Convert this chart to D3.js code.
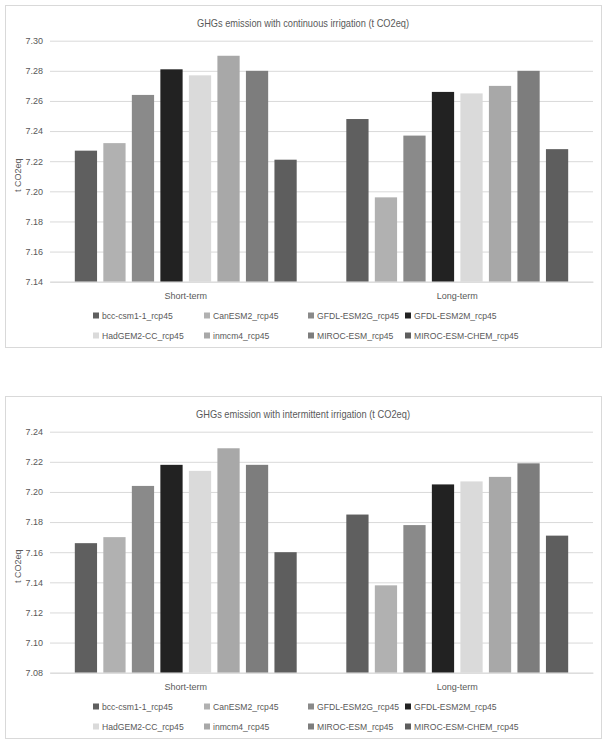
<!DOCTYPE html>
<html>
<head>
<meta charset="utf-8">
<script src="https://cdn.jsdelivr.net/npm/d3@7"></script>
<style>
  html, body { margin: 0; padding: 0; background: #ffffff; }
  svg { display: block; }
  text { font-family: "Liberation Sans", Arial, sans-serif; fill: #595959; }
</style>
</head>
<body>
<svg id="chart" width="611" height="747"></svg>
<script>
// ---- data ----
const categories = ["Short-term", "Long-term"];
const models = ["bcc-csm1-1_rcp45", "CanESM2_rcp45", "GFDL-ESM2G_rcp45", "GFDL-ESM2M_rcp45",
                "HadGEM2-CC_rcp45", "inmcm4_rcp45", "MIROC-ESM_rcp45", "MIROC-ESM-CHEM_rcp45"];
const modelColors = ["#5f5f5f", "#b1b1b1", "#8a8a8a", "#222222", "#dadada", "#a8a8a8", "#7d7d7d", "#5e5e5e"];

const continuousShort = [7.227, 7.232, 7.264, 7.281, 7.277, 7.290, 7.280, 7.221];
const continuousLong  = [7.248, 7.196, 7.237, 7.266, 7.265, 7.270, 7.280, 7.228];
const continuousTicks = [7.14, 7.16, 7.18, 7.20, 7.22, 7.24, 7.26, 7.28, 7.30];

const intermittentShort = [7.166, 7.170, 7.204, 7.218, 7.214, 7.229, 7.218, 7.160];
const intermittentLong  = [7.185, 7.138, 7.178, 7.205, 7.207, 7.210, 7.219, 7.171];
const intermittentTicks = [7.08, 7.10, 7.12, 7.14, 7.16, 7.18, 7.20, 7.22, 7.24];

const titles = ["GHGs emission with continuous irrigation (t CO2eq)",
                "GHGs emission with intermittent irrigation (t CO2eq)"];
const yAxisTitle = "t CO2eq";

// ---- drawing ----
const svg = d3.select("#chart");
const FONT = "'Liberation Sans', Arial, sans-serif";

function drawChart(offsetY, title, titleLen, shortVals, longVals, ticks) {
  const g = svg.append("g").attr("transform", `translate(0,${offsetY})`);
  const plot = { left: 50, right: 593, top: 40.7, bottom: 281.7 };

  // frame
  g.append("rect")
    .attr("x", 5.5).attr("y", 5.5)
    .attr("width", 596).attr("height", 342)
    .attr("fill", "#ffffff").attr("stroke", "#d9d9d9").attr("stroke-width", 1);

  const y = d3.scaleLinear()
    .domain([d3.min(ticks), d3.max(ticks)])
    .range([plot.bottom, plot.top]);

  const x0 = d3.scaleBand().domain(categories).range([plot.left, plot.right])
    .paddingInner(0).paddingOuter(0);
  const x1 = d3.scaleBand().domain(models).range([0, x0.bandwidth()])
    .paddingInner(0.22).paddingOuter(0.87);

  // gridlines + tick labels
  const yAxis = d3.axisLeft(y)
    .tickValues(ticks)
    .tickFormat(d3.format(".2f"))
    .tickSize(-(plot.right - plot.left))
    .tickPadding(7);
  const ya = g.append("g").attr("transform", `translate(${plot.left},0)`).call(yAxis);
  ya.select(".domain").remove();
  ya.selectAll(".tick line").attr("stroke", "#d9d9d9").attr("stroke-width", 1);
  ya.selectAll(".tick text")
    .attr("font-size", 9)
    .style("font-family", FONT)
    .attr("fill", "#595959");

  // bars
  const rows = categories.map((c, i) => ({ cat: c, vals: i === 0 ? shortVals : longVals }));
  const base = d3.min(ticks);
  g.append("g").selectAll("g.grp").data(rows).join("g")
    .attr("class", "grp")
    .attr("transform", d => `translate(${x0(d.cat)},0)`)
    .selectAll("rect").data(d => d.vals.map((v, i) => ({ model: models[i], v, color: modelColors[i] })))
    .join("rect")
    .attr("x", d => x1(d.model))
    .attr("width", x1.bandwidth())
    .attr("y", d => y(d.v))
    .attr("height", d => y(base) - y(d.v))
    .attr("fill", d => d.color);

  // x category labels
  const xAxis = d3.axisBottom(x0).tickSize(0).tickPadding(11);
  const xa = g.append("g").attr("transform", `translate(0,${plot.bottom})`).call(xAxis);
  xa.select(".domain").attr("stroke", "#d9d9d9");
  xa.selectAll(".tick text").attr("font-size", 9)
    .style("font-family", FONT)
    .attr("fill", "#595959");

  // title
  g.append("text")
    .attr("x", 303).attr("y", 27)
    .attr("text-anchor", "middle")
    .attr("font-size", 10.5)
    .attr("textLength", titleLen)
    .attr("lengthAdjust", "spacingAndGlyphs")
    .text(title);

  // y axis title
  g.append("text")
    .attr("transform", `translate(21,${(plot.top + plot.bottom) / 2 + 14}) rotate(-90)`)
    .attr("text-anchor", "middle")
    .attr("font-size", 9)
    .text(yAxisTitle);

  // legend
  const colX = [93, 204, 308, 405];
  const rowY = [316, 336];
  const leg = g.append("g").selectAll("g").data(models).join("g")
    .attr("transform", (d, i) => `translate(${colX[i % 4]},${rowY[Math.floor(i / 4)]})`);
  leg.append("rect").attr("x", 0).attr("y", -3.5).attr("width", 6).attr("height", 6)
    .attr("fill", (d, i) => modelColors[i]);
  leg.append("text").attr("x", 9).attr("y", 3)
    .attr("font-size", 8.6)
    .text(d => d);
}

drawChart(0, titles[0], 212, continuousShort, continuousLong, continuousTicks);
drawChart(391, titles[1], 214, intermittentShort, intermittentLong, intermittentTicks);
</script>
</body>
</html>
